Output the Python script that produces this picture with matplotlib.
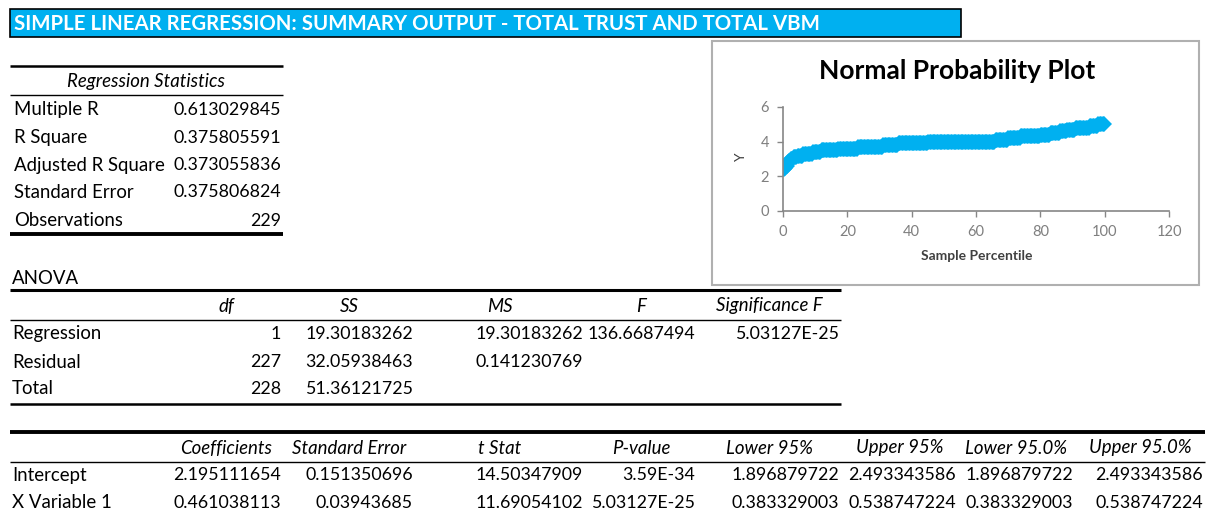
import numpy as np
import matplotlib
matplotlib.use("Agg")
import matplotlib.pyplot as plt
from matplotlib.patches import Rectangle

plt.rcParams['font.family'] = ['Lato', 'DejaVu Sans']

title_text = "SIMPLE LINEAR REGRESSION: SUMMARY OUTPUT - TOTAL TRUST AND TOTAL VBM"

stats_labels = ["Multiple R", "R Square", "Adjusted R Square", "Standard Error", "Observations"]
stats_values = ["0.613029845", "0.375805591", "0.373055836", "0.375806824", "229"]

anova_headers = ["df", "SS", "MS", "F", "Significance F"]
anova_labels = ["Regression", "Residual", "Total"]
anova_df = ["1", "227", "228"]
anova_ss = ["19.30183262", "32.05938463", "51.36121725"]
anova_ms = ["19.30183262", "0.141230769", ""]
anova_f = ["136.6687494", "", ""]
anova_sig = ["5.03127E-25", "", ""]

coef_headers = ["Coefficients", "Standard Error", "t Stat", "P-value",
                "Lower 95%", "Upper 95%", "Lower 95.0%", "Upper 95.0%"]
coef_labels = ["Intercept", "X Variable 1"]
coef_rows = [
    ["2.195111654", "0.151350696", "14.50347909", "3.59E-34",
     "1.896879722", "2.493343586", "1.896879722", "2.493343586"],
    ["0.461038113", "0.03943685", "11.69054102", "5.03127E-25",
     "0.383329003", "0.538747224", "0.383329003", "0.538747224"],
]

# sorted Y values of the normal probability plot, as levels with counts
y_levels = [2.4, 2.5, 2.6, 2.8, 2.9, 3.0, 3.1, 3.2, 3.3, 3.4, 3.5, 3.6, 3.7,
            3.8, 3.9, 4.0, 4.1, 4.2, 4.3, 4.4, 4.5, 4.6, 4.7, 4.8, 4.9, 5.0]
y_counts = [1, 1, 1, 1, 1, 2, 3, 4, 7, 6, 12, 14, 18,
            11, 21, 48, 9, 9, 14, 7, 7, 5, 6, 10, 6, 5]

W, H = 1208, 513
fig = plt.figure(figsize=(W / 100, H / 100), dpi=100)
bg = fig.add_axes([0, 0, 1, 1])
bg.set_xlim(0, W)
bg.set_ylim(H, 0)
bg.axis('off')

FS_NUM = 12.8
FS_LAB = 13.4
col_right = [283, 415, 585, 697, 841, 958, 1075, 1205]
col_left = [169] + col_right[:-1]
col_center = [(a + b) / 2 for a, b in zip(col_left, col_right)]


def hline(y, x0, x1, lw=1.0):
    bg.plot([x0, x1], [y, y], color='black', lw=lw, solid_capstyle='butt')


def txt(x, y, s, ha='left', fs=FS_LAB, **kw):
    bg.text(x, y, s, ha=ha, va='center', fontsize=fs, **kw)


# title bar
bg.add_patch(Rectangle((10, 9), 951, 28, facecolor='#00B0F0', edgecolor='black', lw=1.2))
t = bg.text(14, 23.5, title_text, ha='left', va='center', color='white',
            fontsize=14, fontweight='bold')
fig.canvas.draw()
w = t.get_window_extent().width
t.set_fontsize(14 * 812 / w)

# regression statistics
hline(66, 10, 283, 1.8)
txt(146, 81, "Regression Statistics", ha='center', style='italic')
hline(95, 10, 283, 1.0)
for i, (lab, val) in enumerate(zip(stats_labels, stats_values)):
    y = [110, 138, 165, 192, 221][i]
    txt(14, y, lab)
    txt(281, y, val, ha='right', fs=FS_NUM)
hline(234, 10, 283, 2.8)

# ANOVA
txt(12, 279, "ANOVA")
hline(290, 10, 841, 2.2)
for j, h in enumerate(anova_headers):
    txt(col_center[j], 306, h, ha='center', style='italic')
hline(320, 10, 841, 1.0)
anova_cols = [anova_df, anova_ss, anova_ms, anova_f, anova_sig]
for i, lab in enumerate(anova_labels):
    y = [334, 362, 389][i]
    txt(12, y, lab)
    for j, col in enumerate(anova_cols):
        if col[i]:
            txt(col_right[j] - 2, y, col[i], ha='right', fs=FS_NUM)
hline(404, 10, 841, 1.8)

# coefficients
hline(432, 10, 1205, 2.8)
for j, h in enumerate(coef_headers):
    txt(col_center[j], 448, h, ha='center', style='italic')
hline(462, 10, 1205, 1.0)
for i, lab in enumerate(coef_labels):
    y = [475, 503][i]
    txt(12, y, lab)
    for j, v in enumerate(coef_rows[i]):
        txt(col_right[j] - 2, y, v, ha='right', fs=FS_NUM)

# chart box
bg.add_patch(Rectangle((712, 41), 487, 244, facecolor='white', edgecolor='#b0b0b0', lw=1.5))
bg.text(957, 71, "Normal Probability Plot", ha='center', va='center',
        fontsize=19, fontweight='bold', color='black')
bg.text(977, 256, "Sample Percentile", ha='center', va='center',
        fontsize=10, fontweight='bold', color='#404040')
bg.text(741, 158, "Y", ha='center', va='center', rotation=90,
        fontsize=10, color='#404040')

y_sorted = np.repeat(y_levels, y_counts)
n = len(y_sorted)
pct = (np.arange(1, n + 1) - 0.5) / n * 100

ax = fig.add_axes([783 / W, (H - 211) / H, (1169 - 783) / W, (211 - 107) / H])
ax.patch.set_alpha(0)
ax.plot(pct, y_sorted, 'D', color='#00B0F0', markersize=8.5, markeredgewidth=0)
ax.set_xlim(0, 120)
ax.set_ylim(0, 6)
ax.set_xticks(range(0, 121, 20))
ax.set_yticks([0, 2, 4, 6])
for s in ['top', 'right']:
    ax.spines[s].set_visible(False)
for s in ['left', 'bottom']:
    ax.spines[s].set_color('#868686')
    ax.spines[s].set_linewidth(1.2)
ax.tick_params(direction='out', length=4, width=1, color='#868686',
               labelsize=10.5, labelcolor='#7f7f7f', pad=6)

fig.savefig("out.png", dpi=100)
